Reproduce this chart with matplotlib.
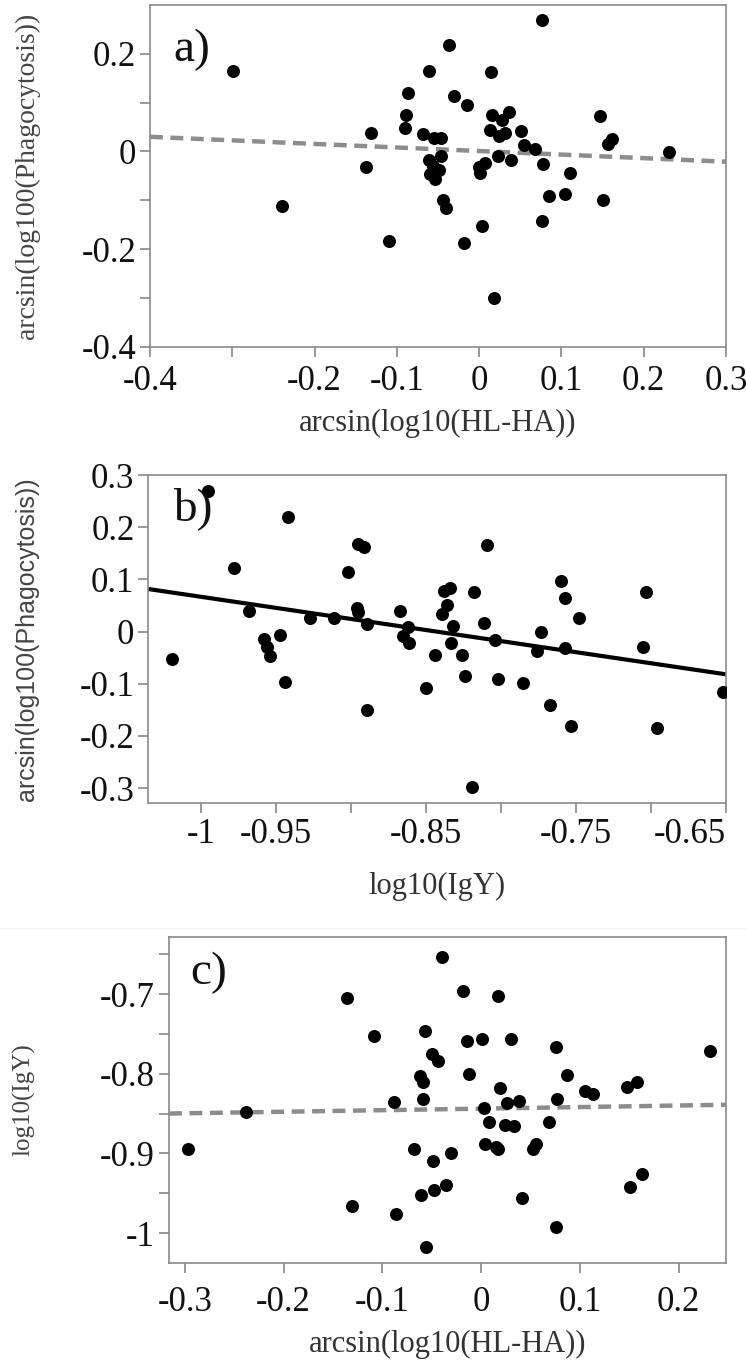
import matplotlib
matplotlib.use("Agg")
import matplotlib.pyplot as plt
from matplotlib.lines import Line2D

# a) arcsin(log10(HL-HA)) vs arcsin(log100(Phagocytosis))
a_hlha = [-0.299, -0.240, -0.132, -0.138, -0.109, -0.087, -0.089, -0.090, -0.061, -0.068,
          -0.055, -0.046, -0.061, -0.046, -0.056, -0.060, -0.049, -0.054, -0.044, -0.040,
          -0.037, -0.031, -0.015, 0.014, 0.016, 0.036, 0.028, 0.013, 0.024, 0.032,
          0.051, 0.055, 0.068, 0.023, 0.039, 0.077, 0.007, 0.000, 0.001, 0.111,
          0.085, 0.104, 0.150, 0.147, 0.157, 0.162, 0.231, 0.076, 0.004, 0.076,
          -0.018, 0.018]
a_phago = [0.165, -0.111, 0.038, -0.031, -0.183, 0.120, 0.075, 0.048, 0.165, 0.036,
           0.027, 0.027, -0.018, -0.009, -0.029, -0.046, -0.039, -0.057, -0.099, -0.116,
           0.218, 0.114, 0.095, 0.162, 0.075, 0.081, 0.065, 0.044, 0.032, 0.038,
           0.042, 0.014, 0.006, -0.010, -0.017, -0.025, -0.024, -0.031, -0.045, -0.045,
           -0.091, -0.087, -0.099, 0.073, 0.016, 0.025, -0.001, -0.142, -0.153, 0.269,
           -0.187, -0.300]
a_fit_x = [-0.4, 0.3]
a_fit_y = [0.030, -0.021]

# b) log10(IgY) vs arcsin(log100(Phagocytosis))
b_igy = [-0.995, -0.942, -0.978, -0.968, -1.019, -0.958, -0.956, -0.954, -0.947, -0.944,
         -0.927, -0.911, -0.902, -0.895, -0.891, -0.896, -0.895, -0.889, -0.889, -0.867,
         -0.862, -0.865, -0.861, -0.844, -0.850, -0.838, -0.834, -0.836, -0.839, -0.832,
         -0.833, -0.826, -0.824, -0.818, -0.809, -0.811, -0.804, -0.802, -0.819, -0.785,
         -0.773, -0.776, -0.767, -0.760, -0.757, -0.757, -0.753, -0.748, -0.703, -0.705,
         -0.696, -0.652]
b_phago = [0.270, 0.219, 0.122, 0.039, -0.053, -0.014, -0.030, -0.046, -0.006, -0.097,
           0.026, 0.026, 0.115, 0.167, 0.162, 0.046, 0.037, 0.015, -0.151, 0.039,
           0.008, -0.008, -0.022, -0.044, -0.109, 0.078, 0.083, 0.050, 0.034, 0.010,
           -0.022, -0.044, -0.086, 0.075, 0.165, 0.017, -0.016, -0.090, -0.298, -0.099,
           0.000, -0.038, -0.140, 0.096, 0.065, -0.031, -0.181, 0.026, 0.076, -0.029,
           -0.185, -0.115]
b_fit_x = [-1.035, -0.65]
b_fit_y = [0.0815, -0.082]

# c) arcsin(log10(HL-HA)) vs log10(IgY)
c_hlha = [-0.040, -0.136, -0.108, -0.057, -0.050, -0.044, -0.062, -0.059, -0.088, -0.059,
          -0.238, -0.297, -0.068, -0.049, -0.030, -0.131, -0.086, -0.061, -0.048, -0.036,
          -0.056, -0.018, 0.017, -0.014, 0.001, 0.030, 0.076, 0.232, -0.012, 0.087,
          0.019, 0.026, 0.038, 0.077, 0.105, 0.113, 0.148, 0.158, 0.003, 0.008,
          0.024, 0.033, 0.069, 0.004, 0.015, 0.017, 0.053, 0.056, 0.041, 0.151,
          0.163, 0.076]
c_igy = [-0.653, -0.705, -0.753, -0.747, -0.775, -0.784, -0.803, -0.810, -0.836, -0.832,
         -0.848, -0.894, -0.894, -0.909, -0.900, -0.966, -0.976, -0.952, -0.946, -0.940,
         -1.017, -0.696, -0.703, -0.759, -0.756, -0.757, -0.766, -0.772, -0.800, -0.801,
         -0.818, -0.837, -0.834, -0.832, -0.822, -0.825, -0.817, -0.811, -0.843, -0.860,
         -0.864, -0.866, -0.861, -0.888, -0.892, -0.895, -0.895, -0.888, -0.956, -0.942,
         -0.926, -0.993]
c_fit_x = [-0.316, 0.248]
c_fit_y = [-0.850, -0.839]

a_xticks = [-0.4, -0.3, -0.2, -0.1, 0, 0.1, 0.2, 0.3]
a_xlabels = ["-0.4", "", "-0.2", "-0.1", "0", "0.1", "0.2", "0.3"]
a_yticks = [-0.4, -0.3, -0.2, -0.1, 0, 0.1, 0.2]
a_ylabels = ["-0.4", "", "-0.2", "", "0", "", "0.2"]
b_xticks = [-1.0, -0.95, -0.9, -0.85, -0.8, -0.75, -0.7, -0.65]
b_xlabels = ["-1", "-0.95", "", "-0.85", "", "-0.75", "", "-0.65"]
b_yticks = [-0.3, -0.2, -0.1, 0, 0.1, 0.2, 0.3]
b_ylabels = ["-0.3", "-0.2", "-0.1", "0", "0.1", "0.2", "0.3"]
c_xticks = [-0.3, -0.2, -0.1, 0, 0.1, 0.2]
c_xlabels = ["-0.3", "-0.2", "-0.1", "0", "0.1", "0.2"]
c_yticks = [-1.0, -0.95, -0.9, -0.85, -0.8, -0.75, -0.7, -0.65]
c_ylabels = ["-1", "", "-0.9", "", "-0.8", "", "-0.7", ""]

W, H = 746, 1362
plt.rcParams.update({"font.family": ["Liberation Serif", "DejaVu Serif"], "axes.linewidth": 1.2})
fig = plt.figure(figsize=(W / 100, H / 100), dpi=100)

def px_rect(l, r, t, b):
    return [l / W, 1 - b / H, (r - l) / W, (b - t) / H]

def panel(rect, xs, ys, fx, fy, fit_style, xlim, ylim, xt, xl, yt, yl, xpad, letter, lpos,
          xlabel, xlab_y, ylabel, ylab_x, ylab_kw):
    ax = fig.add_axes(rect)
    ax.plot(fx, fy, zorder=1, **fit_style)
    ax.scatter(xs, ys, s=88, color="black", linewidths=0, zorder=3)
    ax.set_xlim(*xlim); ax.set_ylim(*ylim)
    ax.set_xticks(xt); ax.set_xticklabels(xl, fontsize=25)
    ax.set_yticks(yt); ax.set_yticklabels(yl, fontsize=25)
    ax.tick_params(axis="both", direction="out", length=7, width=1.2, color="#888888", labelcolor="#111111")
    ax.tick_params(axis="x", pad=xpad)
    ax.tick_params(axis="y", pad=3)
    for sp in ax.spines.values():
        sp.set_color("#8a8a8a")
    ax.text(lpos[0], lpos[1], letter, transform=ax.transAxes, fontsize=34, ha="left", va="center", color="#111111")
    ax.set_xlabel(xlabel, fontsize=22, color="#333333", va="center")
    ax.xaxis.set_label_coords(0.5, xlab_y)
    ax.set_ylabel(ylabel, va="center", **ylab_kw)
    ax.yaxis.set_label_coords(ylab_x, 0.5)
    return ax

dash = dict(color="#8c8c8c", lw=3.2, ls=(0, (2.9, 1.7)))
solid = dict(color="black", lw=3.0, solid_capstyle="butt")

panel(px_rect(150, 726, 5, 346.7), a_hlha, a_phago, a_fit_x, a_fit_y, dash,
      (-0.4, 0.3), (-0.4, 0.3), a_xticks, a_xlabels, a_yticks, a_ylabels, 6, "a)", (0.040, 0.868),
      "arcsin(log10(HL-HA))", -0.226, "arcsin(log100(Phagocytosis))", -0.2135,
      dict(fontsize=20, color="#444444"))
axb = panel(px_rect(148.3, 726, 475, 802.7), b_igy, b_phago, b_fit_x, b_fit_y, solid,
            (-1.035, -0.65), (-0.328, 0.298), b_xticks, b_xlabels, b_yticks, b_ylabels, 4, "b)", (0.043, 0.899),
            "log10(IgY)", -0.257, "arcsin(log100(Phagocytosis))", -0.210,
            dict(fontsize=18, color="#444444", fontfamily=["Liberation Sans", "DejaVu Sans"]))
# last label sits flush with the right edge, like the original
axb.get_xticklabels()[-1].set_horizontalalignment("right")
panel(px_rect(169, 726, 936.7, 1263.3), c_hlha, c_igy, c_fit_x, c_fit_y, dash,
      (-0.316, 0.248), (-1.038, -0.628), c_xticks, c_xlabels, c_yticks, c_ylabels, 9, "c)", (0.038, 0.889),
      "arcsin(log10(HL-HA))", -0.250, "log10(IgY)", -0.260,
      dict(fontsize=18, color="#444444"))

# faint scan edge above panel c
fig.add_artist(Line2D([0, 1], [1 - 928 / H] * 2, color="#efefef", lw=1))

fig.savefig("out.png", dpi=100, facecolor="white")
